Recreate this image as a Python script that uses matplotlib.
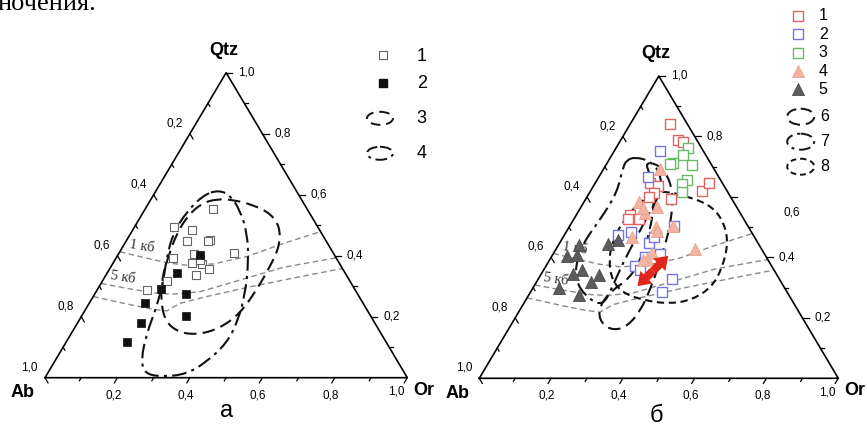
import numpy as np
import matplotlib.pyplot as plt
from matplotlib.path import Path
from matplotlib.patches import PathPatch, Ellipse

plt.rcParams['font.family'] = ['Liberation Sans', 'DejaVu Sans']

# ---- data (Qtz, Or fractions; Ab = 1 - Qtz - Or) ----
# panel a
a_open_qtz = [0.553, 0.494, 0.484, 0.448, 0.451, 0.447, 0.410, 0.405, 0.392, 0.377, 0.373, 0.386, 0.355, 0.337, 0.318, 0.287]
a_open_or = [0.188, 0.108, 0.165, 0.167, 0.230, 0.226, 0.316, 0.209, 0.156, 0.217, 0.247, 0.235, 0.274, 0.249, 0.177, 0.138]
a_fill_qtz = [0.402, 0.344, 0.290, 0.274, 0.246, 0.203, 0.180, 0.117]
a_fill_or = [0.226, 0.193, 0.175, 0.252, 0.152, 0.287, 0.174, 0.168]

# contour 3 (dashed) and 4 (dash-dot), panel a
a_c3_qtz = [0.586, 0.583, 0.566, 0.539, 0.495, 0.430, 0.364, 0.287, 0.211, 0.162, 0.140, 0.151, 0.189, 0.255, 0.331, 0.397, 0.473, 0.533, 0.572]
a_c3_or = [0.181, 0.229, 0.292, 0.352, 0.401, 0.432, 0.439, 0.440, 0.433, 0.402, 0.349, 0.288, 0.236, 0.192, 0.158, 0.142, 0.127, 0.129, 0.147]
a_c4_qtz = [0.615, 0.599, 0.550, 0.473, 0.375, 0.277, 0.189, 0.113, 0.052, 0.012, 0.003, 0.012, 0.058, 0.145, 0.233, 0.320, 0.397, 0.473, 0.544, 0.599]
a_c4_or = [0.171, 0.211, 0.263, 0.322, 0.374, 0.414, 0.439, 0.445, 0.420, 0.385, 0.325, 0.270, 0.236, 0.208, 0.192, 0.167, 0.138, 0.117, 0.119, 0.138]

# panel б
b_red_qtz = [0.841, 0.787, 0.782, 0.647, 0.636, 0.614, 0.599, 0.592, 0.621, 0.646, 0.540, 0.526, 0.526]
b_red_or = [0.112, 0.160, 0.177, 0.152, 0.181, 0.180, 0.173, 0.239, 0.309, 0.316, 0.150, 0.151, 0.183]
b_blue_qtz = [0.753, 0.665, 0.474, 0.485, 0.504, 0.449, 0.466, 0.411, 0.400, 0.373, 0.358, 0.327, 0.287]
b_blue_or = [0.126, 0.137, 0.150, 0.181, 0.291, 0.249, 0.254, 0.297, 0.261, 0.247, 0.270, 0.374, 0.365]
b_green_qtz = [0.763, 0.739, 0.713, 0.709, 0.706, 0.656, 0.642, 0.617]
b_green_or = [0.201, 0.199, 0.182, 0.177, 0.240, 0.250, 0.243, 0.255]
b_tri_qtz = [0.691, 0.582, 0.548, 0.568, 0.502, 0.488, 0.505, 0.466, 0.413, 0.394, 0.391, 0.427, 0.562]
b_tri_or = [0.159, 0.155, 0.187, 0.210, 0.241, 0.250, 0.288, 0.191, 0.275, 0.269, 0.261, 0.388, 0.176]
b_dark_qtz = [0.441, 0.405, 0.408, 0.443, 0.458, 0.358, 0.345, 0.341, 0.320, 0.298, 0.276]
b_dark_or = [0.057, 0.041, 0.067, 0.138, 0.156, 0.106, 0.089, 0.164, 0.151, 0.073, 0.140]

# contours 6 (long dash), 7 (dash-dot), 8 (short dash), panel б
b_c6_qtz = [0.705, 0.656, 0.590, 0.497, 0.408, 0.309, 0.219, 0.166, 0.160, 0.193, 0.242, 0.292, 0.325, 0.385, 0.484, 0.590, 0.673, 0.716]
b_c6_or = [0.150, 0.203, 0.245, 0.282, 0.305, 0.327, 0.338, 0.323, 0.284, 0.237, 0.215, 0.224, 0.251, 0.255, 0.233, 0.194, 0.139, 0.104]
b_c7_qtz = [0.732, 0.719, 0.682, 0.623, 0.550, 0.458, 0.375, 0.299, 0.242, 0.259, 0.309, 0.368, 0.448, 0.524, 0.613, 0.699, 0.722]
b_c7_or = [0.068, 0.116, 0.162, 0.197, 0.200, 0.205, 0.210, 0.220, 0.224, 0.179, 0.118, 0.083, 0.065, 0.074, 0.077, 0.051, 0.050]
b_c8_qtz = [0.623, 0.600, 0.567, 0.507, 0.441, 0.365, 0.302, 0.259, 0.246, 0.259, 0.282, 0.325, 0.391, 0.458, 0.530, 0.590]
b_c8_or = [0.192, 0.287, 0.368, 0.431, 0.472, 0.494, 0.497, 0.463, 0.403, 0.326, 0.259, 0.207, 0.165, 0.143, 0.141, 0.158]

# trend arrow (start, end)
arrow_qtz = [0.305, 0.405]
arrow_or = [0.288, 0.324]

# isobars (same on both panels)
iso_qtz = [[0.413, 0.397, 0.377, 0.369, 0.373, 0.397, 0.440, 0.479],
           [0.309, 0.293, 0.277, 0.274, 0.282, 0.320, 0.362, 0.393],
           [0.266, 0.242, 0.224, 0.219, 0.244, 0.266, 0.298, 0.331, 0.358]]
iso_or = [[0.0, 0.064, 0.147, 0.206, 0.278, 0.358, 0.438, 0.521],
          [0.0, 0.079, 0.170, 0.217, 0.287, 0.378, 0.477, 0.607],
          [0.0, 0.104, 0.187, 0.227, 0.251, 0.313, 0.417, 0.538, 0.642]]
iso_labels = ['1 кб', '5 кб']
iso_label_qtz = [0.430, 0.327]
iso_label_or = [0.052, 0.051]

RED, BLUE, GREEN = '#e26464', '#7575ea', '#68b968'
SALMON, SALMON_E, DARK = '#f3b5a2', '#e9a18c', '#5c5c5c'

H = np.sqrt(3) / 2


def to_xy(q, o):
    q = np.asarray(q, dtype=float)
    o = np.asarray(o, dtype=float)
    return o + q / 2, q * H


def smooth_loop(q, o):
    x, y = to_xy(q, o)
    pts = np.column_stack([x, y])
    mids = (pts + np.roll(pts, -1, axis=0)) / 2
    verts = [mids[-1]]
    codes = [Path.MOVETO]
    for i in range(len(pts)):
        verts += [pts[i], mids[i]]
        codes += [Path.CURVE3, Path.CURVE3]
    return Path(verts, codes)


def draw_frame(ax, moved_right=None):
    ax.plot([0, 1, 0.5, 0], [0, 0, H, 0], color='black', lw=1.2, clip_on=False, zorder=3)
    kw = dict(color='black', lw=0.9, clip_on=False, zorder=3)
    lab = dict(textcoords='offset points', ha='center', va='center', fontsize=8.5)
    for i in range(1, 11):
        v = i / 10
        major = i % 2 == 0
        L = 0.017 if major else 0.010
        txt = f'{v:.1f}'.replace('.', ',')
        # bottom axis (Or)
        ax.plot([v, v - 0.5 * L], [0, -H * L], **kw)
        # left axis (Ab)
        lx, ly = (1 - v) / 2, (1 - v) * H
        ax.plot([lx, lx + 0.5 * L], [ly, ly - H * L], **kw)
        # right axis (Qtz)
        rx, ry = 1 - v / 2, v * H
        ax.plot([rx, rx + L], [ry, ry], **kw)
        if major:
            off_b = (-8, -10) if i == 10 else (-3, -12.5)
            ax.annotate(txt, (v, 0), xytext=off_b, **lab)
            ax.annotate(txt, (lx, ly), xytext=(-11, 7.5), **lab)
            off_r = (14.5, 0)
            if moved_right is not None and abs(v - moved_right[0]) < 1e-6:
                off_r = moved_right[1]
            ax.annotate(txt, (rx, ry), xytext=off_r, **lab)
    bold = dict(textcoords='offset points', ha='center', va='center', fontsize=13, fontweight='bold')
    ax.annotate('Qtz', (0.5, H), xytext=(-2, 16), **bold)
    ax.annotate('Ab', (0, 0), xytext=(-16, -11), **bold)
    ax.annotate('Or', (1, 0), xytext=(12, -9), **bold)


def draw_isobars(ax):
    for q, o in zip(iso_qtz, iso_or):
        x, y = to_xy(q, o)
        ax.plot(x, y, color='#8a8a8a', lw=1.0, ls=(0, (4, 2.5)), zorder=1)
    for t, q, o in zip(iso_labels, iso_label_qtz, iso_label_or):
        x, y = to_xy(q, o)
        ax.text(x, y, t, family='Liberation Serif', fontsize=10.5, color='#333333',
                rotation=-9, ha='center', va='center', zorder=1)


def draw_loop(ax, q, o, ls, lw=1.5):
    ax.add_patch(PathPatch(smooth_loop(q, o), fill=False, ec='#111111', lw=lw, ls=ls, zorder=2))


fig = plt.figure(figsize=(8.67, 4.32), dpi=100)

# ---------- panel a ----------
axa = fig.add_axes([45 / 867, 1 - 377.7 / 432, 362.3 / 867, 305 / 432])
axa.set_xlim(0, 1)
axa.set_ylim(0, H)
axa.axis('off')
draw_frame(axa)
draw_isobars(axa)
draw_loop(axa, a_c3_qtz, a_c3_or, (0, (6, 3)))
draw_loop(axa, a_c4_qtz, a_c4_or, (0, (7, 2.5, 1.5, 2.5)))
x, y = to_xy(a_open_qtz, a_open_or)
axa.scatter(x, y, s=26, marker='s', facecolor='white', edgecolor='#666666', lw=0.8, zorder=4)
x, y = to_xy(a_fill_qtz, a_fill_or)
axa.scatter(x, y, s=28, marker='s', facecolor='#111111', edgecolor='#111111', lw=0.5, zorder=4)

# ---------- panel б ----------
axb = fig.add_axes([479.3 / 867, 1 - 378.3 / 432, 359 / 867, 302.3 / 432])
axb.set_xlim(0, 1)
axb.set_ylim(0, H)
axb.axis('off')
draw_frame(axb, moved_right=(0.6, (44, -11.5)))
draw_isobars(axb)
draw_loop(axb, b_c6_qtz, b_c6_or, (0, (6, 3)))
draw_loop(axb, b_c7_qtz, b_c7_or, (0, (7, 2.5, 1.5, 2.5)))
draw_loop(axb, b_c8_qtz, b_c8_or, (0, (3.5, 2.2)))
sq = dict(s=42, marker='s', facecolor='white', lw=1.0, zorder=4)
x, y = to_xy(b_red_qtz, b_red_or)
axb.scatter(x, y, edgecolor=RED, **sq)
x, y = to_xy(b_blue_qtz, b_blue_or)
axb.scatter(x, y, edgecolor=BLUE, **sq)
x, y = to_xy(b_green_qtz, b_green_or)
axb.scatter(x, y, edgecolor=GREEN, **sq)
x, y = to_xy(b_tri_qtz, b_tri_or)
axb.scatter(x, y, s=75, marker='^', facecolor=SALMON, edgecolor=SALMON_E, lw=0.6, zorder=5)
x, y = to_xy(b_dark_qtz, b_dark_or)
axb.scatter(x, y, s=75, marker='^', facecolor=DARK, edgecolor='#4a4a4a', lw=0.6, zorder=5)

# double-headed red arrow: two filled 'simple' arrows from the midpoint outwards
ax_, ay_ = to_xy(arrow_qtz, arrow_or)
mid = ((ax_[0] + ax_[1]) / 2, (ay_[0] + ay_[1]) / 2)
for k in range(2):
    axb.annotate('', xy=(ax_[k], ay_[k]), xytext=mid, zorder=6,
                 arrowprops=dict(arrowstyle='simple,head_length=0.65,head_width=0.9,tail_width=0.42',
                                 mutation_scale=14, lw=0, fc='#e1251b', ec='none',
                                 shrinkA=0, shrinkB=0))

# ---------- legends and captions (figure pixel space) ----------
ov = fig.add_axes([0, 0, 1, 1])
ov.set_xlim(0, 867)
ov.set_ylim(432, 0)
ov.axis('off')
ov.patch.set_visible(False)

ov.scatter([383.3], [55], s=34, marker='s', facecolor='white', edgecolor='#666666', lw=0.8)
ov.scatter([383.3], [82.7], s=34, marker='s', facecolor='#111111', edgecolor='#111111')
ov.add_patch(Ellipse((380, 118.3), 26, 13, fill=False, ec='#111111', lw=1.4, ls=(0, (5, 3))))
ov.add_patch(Ellipse((380, 153.3), 26, 13, fill=False, ec='#111111', lw=1.4, ls=(0, (6, 2.5, 1.5, 2.5))))
for t, yy in zip(['1', '2', '3', '4'], [56.7, 83, 118.3, 153.3]):
    ov.text(421.7, yy, t, fontsize=13, ha='center', va='center')

leg_y = [16, 34.3, 52.7, 71, 89.3]
ov.scatter([798.3], [leg_y[0]], s=42, marker='s', facecolor='white', edgecolor=RED, lw=1.0)
ov.scatter([798.3], [leg_y[1]], s=42, marker='s', facecolor='white', edgecolor=BLUE, lw=1.0)
ov.scatter([798.3], [leg_y[2]], s=42, marker='s', facecolor='white', edgecolor=GREEN, lw=1.0)
ov.scatter([798.3], [leg_y[3]], s=75, marker='^', facecolor=SALMON, edgecolor=SALMON_E, lw=0.6)
ov.scatter([798.3], [leg_y[4]], s=75, marker='^', facecolor=DARK, edgecolor='#4a4a4a', lw=0.6)
for i, yy in enumerate(leg_y):
    ov.text(823.3, yy, str(i + 1), fontsize=11.5, ha='center', va='center')
ell_y = [116.7, 141.7, 166.7]
ell_ls = [(0, (6, 3)), (0, (6, 2.5, 1.5, 2.5)), (0, (3, 2))]
for i, (yy, ls) in enumerate(zip(ell_y, ell_ls)):
    ov.add_patch(Ellipse((800.7, yy), 27, 16, fill=False, ec='#111111', lw=1.4, ls=ls))
    ov.text(825, yy, str(i + 6), fontsize=11.5, ha='center', va='center')

ov.text(226.7, 411, 'а', fontsize=17, ha='center', va='center')
ov.text(656.7, 416, 'б', fontsize=17, ha='center', va='center')
# first line of the page is cut at the top edge in the source image
ov.text(-3, 10, 'ночения.', family='Liberation Serif', fontsize=19, ha='left', va='baseline')

fig.savefig('out.png', dpi=100)
